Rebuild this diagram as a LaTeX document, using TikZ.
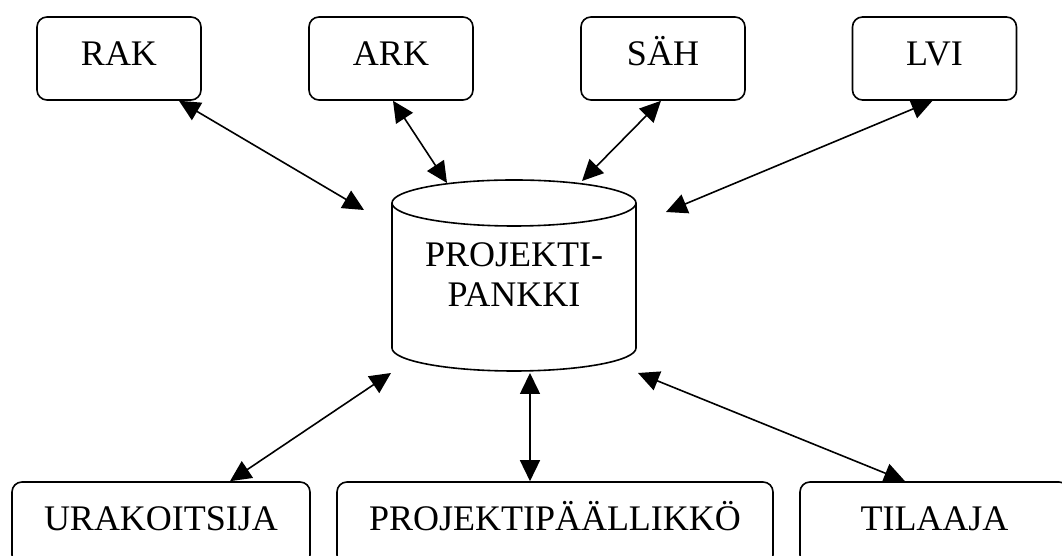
\documentclass[tikz,border=0pt]{standalone}
\usepackage{fontspec}
\setmainfont{Liberation Serif}
\usepackage{tikz}
\usetikzlibrary{arrows.meta}

\begin{document}
\begin{tikzpicture}[<->, >={Triangle[length=10.5pt,width=10pt]}, x=0.5pt, y=0.5pt,
                    line width=0.8pt,
                    font=\fontsize{18pt}{20pt}\selectfont]
    \tikzstyle{box}=[draw, rounded corners=5pt, minimum height=41.5pt,
                     text height=12pt, text depth=4.5pt, inner sep=0pt]
    \tikzstyle{top}=[box, minimum width=82pt]

    \useasboundingbox (0,0) rectangle (1062,556);
    \clip (0,0) rectangle (1062,556);

    \node[top]                     (rak) at (119,497.5)   {RAK};
    \node[top]                     (ark) at (391,497.5)   {ARK};
    \node[top]                     (sah) at (663,497.5)   {SÄH};
    \node[top]                     (lvi) at (934.5,497.5) {LVI};
    \node[box, minimum width=149pt] (urak) at (161,32.5)  {URAKOITSIJA};
    \node[box, minimum width=218pt] (pp)   at (555,32.5)  {PROJEKTIPÄÄLLIKKÖ};
    \node[box, minimum width=134.5pt] (til) at (934.5,32.5) {TILAAJA};
    \node[align=center]            (bank) at (514,281)    {PROJEKTI-\\PANKKI};

    % tietokanta
    \draw[-] (392,353) -- (392,208) arc[start angle=180, end angle=360,
              x radius=122, y radius=23] -- (636,353);
    \draw[-] (514,353) ellipse [x radius=122, y radius=23];

    \coordinate (cr) at (364,346);
    \coordinate (ca) at (447,373);
    \coordinate (cs) at (582,375);
    \coordinate (cl) at (666,344);
    \coordinate (cu) at (391,183);
    \coordinate (cp) at (530,183);
    \coordinate (ct) at (638,183);

    \draw ([xshift=30pt]rak.south)      -- (cr);
    \draw ([xshift=1pt]ark.south)       -- (ca);
    \draw ([xshift=-1pt]sah.south)      -- (cs);
    \draw ([xshift=-1pt]lvi.south)      -- (cl);
    \draw ([xshift=34.5pt]urak.north)   -- (cu);
    \draw ([xshift=-12.5pt]pp.north)    -- (cp);
    \draw ([xshift=-14.75pt]til.north)  -- (ct);
\end{tikzpicture}
\end{document}
